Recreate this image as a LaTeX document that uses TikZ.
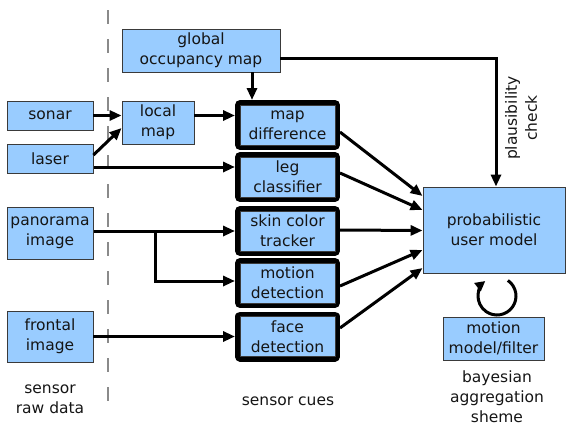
\documentclass[tikz,border=0pt]{standalone}
\usepackage{fontspec}
\setmainfont{DejaVu Sans}
\usetikzlibrary{arrows.meta,calc}
\definecolor{boxblue}{HTML}{99CCFF}
\definecolor{boxline}{HTML}{3A3A3A}
\definecolor{txt}{HTML}{151515}
\definecolor{dashgray}{HTML}{8A8A8A}
\begin{document}
\begin{tikzpicture}[x=1pt,y=-1pt,
  every node/.style={font=\fontsize{15.5}{20}\selectfont, text=txt, align=center, inner sep=0pt},
  box/.style={draw=boxline, line width=0.9pt, fill=boxblue},
  cue/.style={box, minimum width=95pt, minimum height=40pt, outer sep=5pt,
    preaction={draw=black, line width=10pt, line join=round}},
  arr/.style={line width=3pt, -{Triangle[length=12pt,width=10pt]}}
]
\useasboundingbox (0,0) rectangle (566,426);
% separator
\draw[dashgray, line width=2pt, dash pattern=on 14pt off 15pt] (108,10) -- (108,403);

% raw data
\node[box, minimum width=86pt, minimum height=29pt] (sonar) at (50,115.5) {sonar};
\node[box, minimum width=86pt, minimum height=29pt] (laser) at (50,158.5) {laser};
\node[box, minimum width=86pt, minimum height=52pt] (pan) at (50,233) {panorama\\image};
\node[box, minimum width=86pt, minimum height=51pt] (front) at (50,336.5) {frontal\\image};

% maps
\node[box, minimum width=158pt, minimum height=43pt] (glob) at (201,50.5) {global\\occupancy map};
\node[box, minimum width=72pt, minimum height=43pt] (local) at (158,122.5) {local\\map};

% cues
\node[cue] (md) at (287.5,125) {map\\difference};
\node[cue] (leg) at (287.5,177) {leg\\classifier};
\node[cue] (skin) at (287.5,231) {skin color\\tracker};
\node[cue] (mot) at (287.5,283) {motion\\detection};
\node[cue] (face) at (287.5,336.5) {face\\detection};

% model
\node[box, minimum width=142pt, minimum height=86pt] (prob) at (494,230) {probabilistic\\user model};
\node[box, minimum width=101pt, minimum height=43pt] (mm) at (493.5,338.5) {motion\\model/filter};

% captions
\node (c1) at (50,399) {sensor\\raw data};
\node (c2) at (288,401) {sensor cues};
\node (c3) at (497,397) {bayesian\\aggregation\\sheme};
\node[rotate=90] (c4) at (521,118) {plausibility\\check};

% connectors
\coordinate (pc) at (496,58);
\draw[arr] (glob.east |- pc) -- (pc) -- (pc |- prob.north);
\coordinate (gx) at (252,0);
\draw[arr] (gx |- glob.south) -- (gx |- md.north);
\draw[arr] (sonar.east) -- (local.west |- sonar.east);
\draw[arr] ([yshift=3.5pt]laser.east) -- ([yshift=-5.5pt]local.west);
\coordinate (lg) at (94,167);
\draw[arr] (lg) -- (lg -| leg.west);
\draw[arr] (local.east |- sonar.east) -- (md.west |- sonar.east);
\coordinate (py) at (94,231);
\draw[arr] (py) -- (py -| skin.west);
\coordinate (br) at (155,231);
\draw[arr] (br) |- ([yshift=2pt]mot.west);
\draw[arr] (front.east) -- (face.west);

\draw[arr] ([yshift=-7pt]md.east) -- ([yshift=34pt]prob.west);
\draw[arr] ([yshift=4pt]leg.east) -- ([yshift=20pt]prob.west);
\draw[arr] ([yshift=1pt]skin.east) -- ([yshift=-0.5pt]prob.west);
\draw[arr] ([yshift=-3pt]mot.east) -- ([yshift=-20pt]prob.west);
\draw[arr] ([yshift=8.5pt]face.east) -- ([yshift=-38pt]prob.west);

% loop
\coordinate (lc) at (497,296);
\draw[line width=3pt, -{Triangle[length=10pt,width=10pt]}] ([shift={(55:19pt)}]lc) arc[start angle=55, end angle=-232, radius=19pt];
\end{tikzpicture}
\end{document}
